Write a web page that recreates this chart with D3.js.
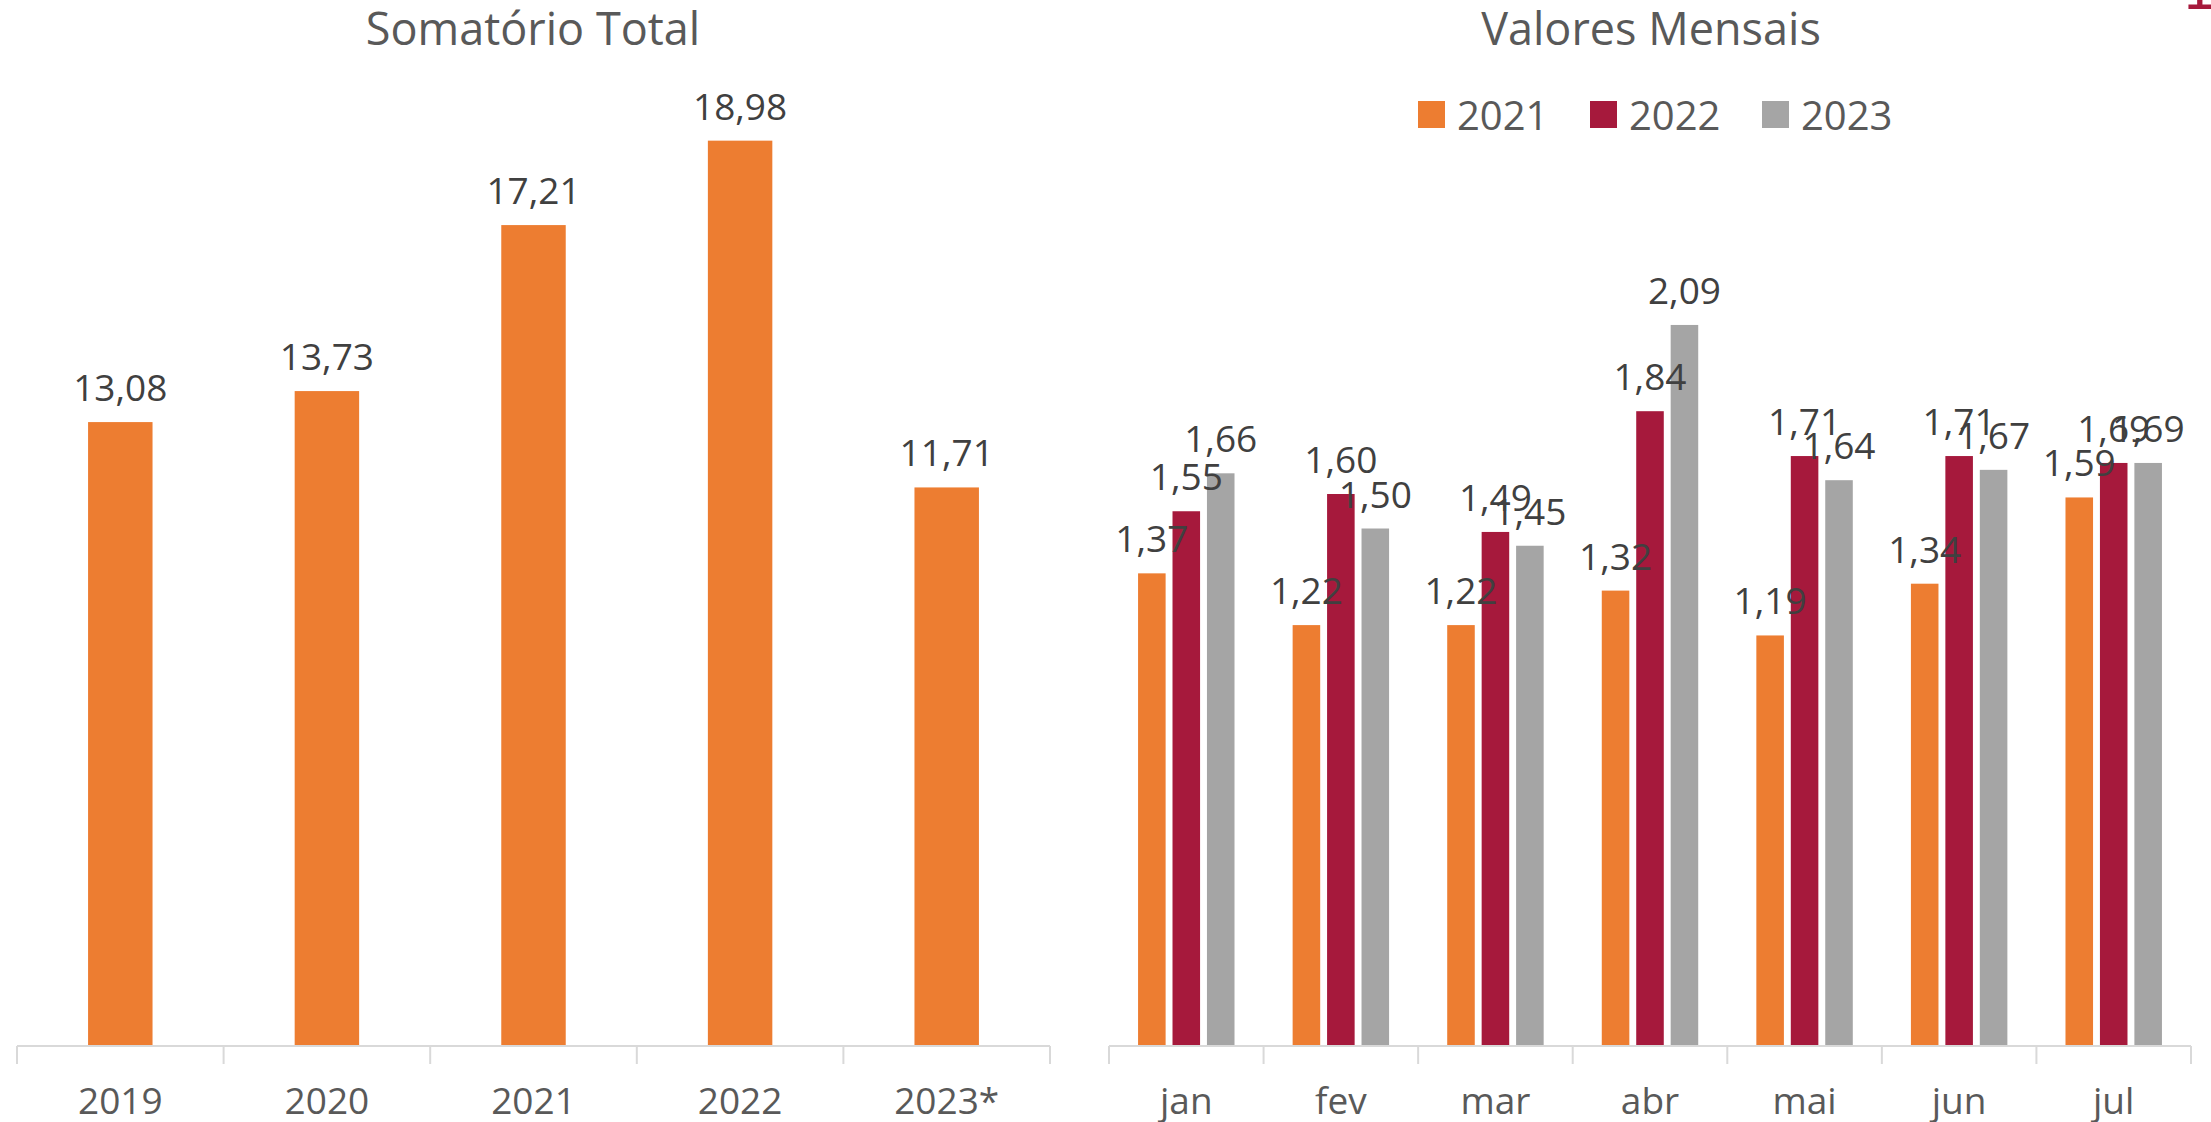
<!DOCTYPE html>
<html>
<head>
<meta charset="utf-8">
<script src="https://cdn.jsdelivr.net/npm/d3@7"></script>
<style>
  html, body { margin: 0; padding: 0; background: #fff; }
  svg { display: block; }
  text { font-family: "Open Sans", "Noto Sans", sans-serif; }
</style>
</head>
<body>
<svg id="chart" width="2211" height="1122"></svg>
<script>
// Annual totals
const years = ["2019", "2020", "2021", "2022", "2023*"];
const totals = [13.08, 13.73, 17.21, 18.98, 11.71];

// Monthly values per year
const months = ["jan", "fev", "mar", "abr", "mai", "jun", "jul"];
const seriesNames = ["2021", "2022", "2023"];
const values2021 = [1.37, 1.22, 1.22, 1.32, 1.19, 1.34, 1.59];
const values2022 = [1.55, 1.60, 1.49, 1.84, 1.71, 1.71, 1.69];
const values2023 = [1.66, 1.50, 1.45, 2.09, 1.64, 1.67, 1.69];

const colors = { "2021": "#ED7D31", "2022": "#A6193C", "2023": "#A5A5A5" };
const textGray = "#595959";
const labelGray = "#404040";
const axisGray = "#D9D9D9";
const fmt = v => d3.format(".2f")(v).replace(".", ",");

const svg = d3.select("#chart");
const baseY = 1046;

// Shared helper: category axis with boundary ticks and centred labels
function drawAxis(g, catScale) {
  const [x0, x1] = catScale.range();
  g.append("line")
    .attr("x1", x0).attr("x2", x1)
    .attr("y1", baseY).attr("y2", baseY)
    .attr("stroke", axisGray).attr("stroke-width", 2);
  const bounds = catScale.domain().map(d => catScale(d)).concat([x1]);
  g.selectAll(".tick-b").data(bounds).join("line")
    .attr("x1", d => d).attr("x2", d => d)
    .attr("y1", baseY).attr("y2", baseY + 18)
    .attr("stroke", axisGray).attr("stroke-width", 2);
  const ax = g.append("g")
    .attr("transform", `translate(0,${baseY})`)
    .call(d3.axisBottom(catScale).tickSize(0).tickPadding(0));
  ax.select(".domain").remove();
  ax.selectAll("text")
    .attr("y", 68).attr("dy", null)
    .attr("fill", textGray)
    .style("font-size", "37px")
    .style("font-family", "'Open Sans', sans-serif");
}

// ---- Left: Somatório Total ----
const left = svg.append("g");
const xCatL = d3.scaleBand().domain(years).range([17, 1050]).padding(0);
const xL = d3.scaleBand().domain(years).range([17, 1050]).paddingInner(0.688).paddingOuter(0.344);
const yL = d3.scaleLinear().domain([0, 20]).range([baseY, 92]);

left.append("text")
  .attr("x", 533).attr("y", 45)
  .attr("text-anchor", "middle")
  .attr("fill", textGray)
  .style("font-size", "45px")
  .text("Somatório Total");

left.selectAll("rect.bar").data(years.map((y, i) => ({ y, v: totals[i] }))).join("rect")
  .attr("class", "bar")
  .attr("x", d => xL(d.y))
  .attr("width", xL.bandwidth())
  .attr("y", d => yL(d.v))
  .attr("height", d => baseY - yL(d.v))
  .attr("fill", colors["2021"]);

left.selectAll("text.val").data(years.map((y, i) => ({ y, v: totals[i] }))).join("text")
  .attr("class", "val")
  .attr("x", d => xL(d.y) + xL.bandwidth() / 2)
  .attr("y", d => yL(d.v) - 21)
  .attr("text-anchor", "middle")
  .attr("fill", labelGray)
  .style("font-size", "37px")
  .text(d => fmt(d.v));

drawAxis(left, xCatL);

// ---- Right: Valores Mensais ----
const right = svg.append("g");
const xCatR = d3.scaleBand().domain(months).range([1109, 2191]).padding(0);
const xR = d3.scaleBand().domain(months).range([1109, 2191]).paddingInner(0.376).paddingOuter(0.188);
const xS = d3.scaleBand().domain(seriesNames).range([0, xR.bandwidth()]).paddingInner(0.2).paddingOuter(0);
const yR = d3.scaleLinear().domain([0, 2.5]).range([baseY, 183.5]);

right.append("text")
  .attr("x", 1651).attr("y", 45)
  .attr("text-anchor", "middle")
  .attr("fill", textGray)
  .style("font-size", "45px")
  .text("Valores Mensais");

// Legend
const legendX = [1418, 1590, 1762];
const legend = right.selectAll("g.leg").data(seriesNames).join("g")
  .attr("class", "leg")
  .attr("transform", (d, i) => `translate(${legendX[i]},0)`);
legend.append("rect")
  .attr("x", 0).attr("y", 101).attr("width", 27).attr("height", 27)
  .attr("fill", d => colors[d]);
legend.append("text")
  .attr("x", 39).attr("y", 130)
  .attr("fill", textGray)
  .style("font-size", "40px")
  .text(d => d);

const monthly = { "2021": values2021, "2022": values2022, "2023": values2023 };
const cells = [];
seriesNames.forEach(s => months.forEach((m, i) => cells.push({ s, m, v: monthly[s][i] })));

right.selectAll("rect.bar").data(cells).join("rect")
  .attr("class", "bar")
  .attr("x", d => xR(d.m) + xS(d.s))
  .attr("width", xS.bandwidth())
  .attr("y", d => yR(d.v))
  .attr("height", d => baseY - yR(d.v))
  .attr("fill", d => colors[d.s]);

right.selectAll("text.val").data(cells).join("text")
  .attr("class", "val")
  .attr("x", d => xR(d.m) + xS(d.s) + xS.bandwidth() / 2)
  .attr("y", d => yR(d.v) - 21)
  .attr("text-anchor", "middle")
  .attr("fill", labelGray)
  .style("font-size", "37px")
  .text(d => fmt(d.v));

drawAxis(right, xCatR);

// Page number peeking in at the top-right edge
svg.append("text")
  .attr("x", 2199).attr("y", 9)
  .attr("text-anchor", "middle")
  .attr("fill", "#A6193C")
  .style("font-family", "'DejaVu Sans', sans-serif")
  .style("font-size", "54px")
  .text("1");
</script>
</body>
</html>
